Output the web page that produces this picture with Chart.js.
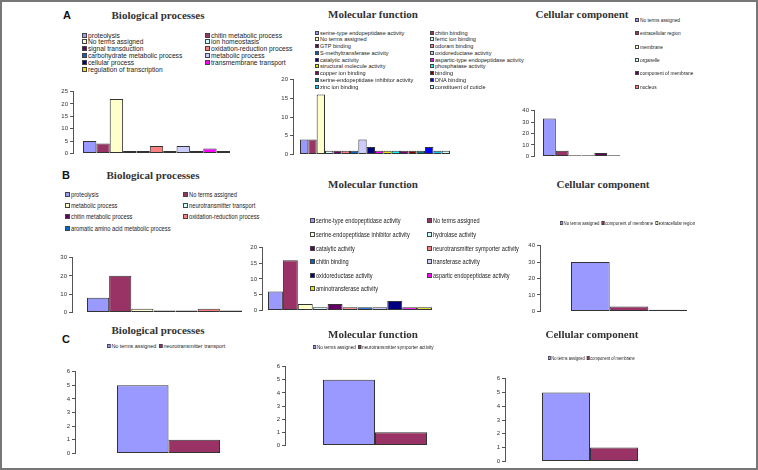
<!DOCTYPE html>
<html>
<head>
<meta charset="utf-8">
<script src="https://cdn.jsdelivr.net/npm/chart.js@4.4.0/dist/chart.umd.min.js"></script>
<style>
    html, body { margin: 0; padding: 0; background: #fff; }
    #fig { position: relative; width: 758px; height: 470px; overflow: hidden; font-family: 'Liberation Sans', Arial, sans-serif; }
    #frame { position: absolute; left: 0; top: 0; right: 0; bottom: 0; border: 2px solid #777; pointer-events: none; }
    canvas { position: absolute; }
    .panel { position: absolute; font: bold 11px 'Liberation Sans', Arial, sans-serif; color: #111; transform: translate(-50%, -50%); }
    .title { position: absolute; font: bold 11px 'Liberation Serif', 'Times New Roman', serif; color: #333; white-space: nowrap; transform: translate(-50%, -50%); }
    .leg { position: absolute; white-space: nowrap; color: #222; display: flex; align-items: center; }
    .leg i { display: inline-block; border: 1px solid #444; box-sizing: border-box; margin-right: 1px; flex: none; }
    .leg span { display: inline-block; transform-origin: left center; }
    .row { transform-origin: left center; }
    .row b { font-weight: normal; display: flex; align-items: center; margin-right: 3px; }
</style>
</head>
<body>
<div id="fig"><div id="frame"></div></div>
<script>
// ============================================
// DATA
// ============================================

// A - biological processes
const aBioLabels = ['proteolysis', 'chitin metabolic process', 'No terms assigned', 'ion homeostasis',
    'signal transduction', 'oxidation-reduction process', 'carbohydrate metabolic process',
    'metabolic process', 'cellular process', 'transmembrane transport', 'regulation of transcription'];
const aBioValues = [5, 4, 22, 1, 1, 3, 1, 3, 1, 2, 1];

// A - molecular function
const aMolLabels = ['serine-type endopeptidase activity', 'chitin binding', 'No terms assigned',
    'ferric ion binding', 'GTP binding', 'odorant binding', 'S-methyltransferase activity',
    'oxidoreductase activity', 'catalytic activity', 'aspartic-type endopeptidase activity',
    'structural molecule activity', 'phosphatase activity', 'copper ion binding', 'binding',
    'serine-endopeptidase inhibitor activity', 'DNA binding', 'zinc ion binding', 'constituent of cuticle'];
const aMolValues = [4, 4, 16, 1, 1, 1, 1, 4, 2, 1, 1, 1, 1, 1, 1, 2, 1, 1];

// A - cellular component
const aCellLabels = ['No terms assigned', 'extracellular region', 'membrane', 'organelle',
    'component of membrane', 'nucleus'];
const aCellValues = [33, 5, 1, 1, 3, 1];

// B - biological processes
const bBioLabels = ['proteolysis', 'No terms assigned', 'metabolic process', 'neurotransmitter transport',
    'chitin metabolic process', 'oxidation-reduction process', 'aromatic amino acid metabolic process'];
const bBioValues = [8, 20, 2, 1, 1, 2, 1];

// B - molecular function
const bMolLabels = ['serine-type endopeptidase activity', 'No terms assigned',
    'serine-endopeptidase inhibitor activity', 'hydrolase activity', 'catalytic activity',
    'neurotransmitter symporter activity', 'chitin binding', 'transferase activity',
    'oxidoreductase activity', 'aspartic endopeptidase activity', 'aminotransferase activity'];
const bMolValues = [6, 16, 2, 1, 2, 1, 1, 1, 3, 1, 1];

// B - cellular component
const bCellLabels = ['No terms assigned', 'component of membrane', 'extracellular region'];
const bCellValues = [30, 3, 1];

// C
const cBioLabels = ['No terms assigned', 'neurotransmitter transport'];
const cBioValues = [5, 1];
const cMolLabels = ['No terms assigned', 'neurotransmitter symporter activity'];
const cMolValues = [5, 1];
const cCellLabels = ['No terms assigned', 'component of membrane'];
const cCellValues = [5, 1];

// y axis ranges [max, step]
const aBioAxis = [25, 5], aMolAxis = [20, 5], aCellAxis = [40, 10];
const bBioAxis = [30, 10], bMolAxis = [20, 5], bCellAxis = [40, 10];
const cBioAxis = [6, 1], cMolAxis = [6, 1], cCellAxis = [6, 1];

// old Excel series colours
const excelPalette = ['#9999ff', '#993366', '#ffffcc', '#ccffff', '#660066', '#ff8080', '#0066cc',
    '#ccccff', '#000080', '#ff00ff', '#e6e600', '#00ffff', '#800080', '#800000', '#008080',
    '#0000ff', '#00ccff', '#ccffff'];

Chart.defaults.font.family = "'Liberation Sans', Arial, sans-serif";

const fig = document.getElementById('fig');

// ============================================
// HELPERS
// ============================================
function addText(cls, text, x, y) {
    const d = document.createElement('div');
    d.className = cls;
    d.textContent = text;
    d.style.left = x + 'px';
    d.style.top = y + 'px';
    fig.appendChild(d);
}

function makeChart(g, labels, values, axis) {
    const labelW = 16, pad = 5;
    const plotR = g.barsR + (g.barsL - g.axisX);
    const w = labelW + (plotR - g.axisX);
    const h = g.zeroY - g.topY + pad * 2;
    const c = document.createElement('canvas');
    c.width = w; c.height = h;
    c.style.left = (g.axisX - labelW) + 'px';
    c.style.top = (g.topY - pad) + 'px';
    c.style.width = w + 'px';
    c.style.height = h + 'px';
    fig.appendChild(c);
    const catPct = (g.barsR - g.barsL) / (plotR - g.axisX);
    new Chart(c, {
        type: 'bar',
        data: {
            labels: [''],
            datasets: labels.map((l, i) => ({
                label: l,
                data: [values[i]],
                backgroundColor: excelPalette[i],
                borderColor: '#333',
                borderWidth: 1,
                borderSkipped: false,
                categoryPercentage: catPct,
                barPercentage: 1
            }))
        },
        options: {
            responsive: false,
            animation: false,
            layout: { padding: { top: pad, bottom: pad, left: 0, right: 0 } },
            plugins: { legend: { display: false }, tooltip: { enabled: false } },
            scales: {
                x: { display: false },
                y: {
                    min: 0,
                    max: axis[0],
                    ticks: { stepSize: axis[1], font: { size: 6 }, color: '#333', padding: 2 },
                    grid: { drawOnChartArea: false, tickLength: 3, color: '#555' },
                    border: { color: '#555' },
                    afterFit: s => { s.width = labelW; }
                }
            }
        }
    });
}

// legend laid out in columns, series go left-right then down (like Excel)
function colLegend(labels, o) {
    labels.forEach((l, i) => {
        const col = i % o.cols.length, row = Math.floor(i / o.cols.length);
        const d = document.createElement('div');
        d.className = 'leg';
        d.style.left = o.cols[col] + 'px';
        d.style.top = (o.y + row * o.rowH - (o.box + 2) / 2) + 'px';
        d.style.height = (o.box + 2) + 'px';
        d.style.fontSize = o.size + 'px';
        const b = document.createElement('i');
        b.style.width = o.box + 'px';
        b.style.height = o.box + 'px';
        b.style.background = excelPalette[i];
        const s = document.createElement('span');
        s.textContent = l;
        s.style.transform = 'scaleX(' + o.sx + ')';
        d.appendChild(b);
        d.appendChild(s);
        fig.appendChild(d);
    });
}

// single line legend squeezed to a target width
function rowLegend(labels, x0, x1, y, size, box) {
    const d = document.createElement('div');
    d.className = 'leg row';
    d.style.left = x0 + 'px';
    d.style.top = (y - (box + 2) / 2) + 'px';
    d.style.height = (box + 2) + 'px';
    d.style.fontSize = size + 'px';
    labels.forEach((l, i) => {
        const it = document.createElement('b');
        const sq = document.createElement('i');
        sq.style.width = box + 'px';
        sq.style.height = box + 'px';
        sq.style.background = excelPalette[i];
        it.appendChild(sq);
        it.appendChild(document.createTextNode(l));
        d.appendChild(it);
    });
    fig.appendChild(d);
    d.style.transform = 'scaleX(' + ((x1 - x0) / d.scrollWidth) + ')';
}

// ============================================
// PANEL A
// ============================================
addText('panel', 'A', 67, 15);
addText('title', 'Biological processes', 158, 15);
addText('title', 'Molecular function', 373, 14);
addText('title', 'Cellular component', 582, 14);

makeChart({ axisX: 73, topY: 91, zeroY: 154, barsL: 83, barsR: 230 }, aBioLabels, aBioValues, aBioAxis);
makeChart({ axisX: 293, topY: 79, zeroY: 155, barsL: 300, barsR: 450 }, aMolLabels, aMolValues, aMolAxis);
makeChart({ axisX: 534, topY: 110, zeroY: 157, barsL: 543, barsR: 620 }, aCellLabels, aCellValues, aCellAxis);

colLegend(aBioLabels, { cols: [82, 205], y: 35, rowH: 6.9, size: 7, sx: 0.95, box: 5 });
colLegend(aMolLabels, { cols: [315, 430], y: 32.7, rowH: 6.75, size: 6, sx: 0.93, box: 4 });
colLegend(aCellLabels, { cols: [635], y: 20, rowH: 13.3, size: 6, sx: 0.8, box: 4 });

// ============================================
// PANEL B
// ============================================
addText('panel', 'B', 66, 175);
addText('title', 'Biological processes', 153, 175);
addText('title', 'Molecular function', 373, 184);
addText('title', 'Cellular component', 603, 184);

makeChart({ axisX: 72, topY: 257, zeroY: 313, barsL: 87, barsR: 242 }, bBioLabels, bBioValues, bBioAxis);
makeChart({ axisX: 262, topY: 247, zeroY: 311, barsL: 268, barsR: 432 }, bMolLabels, bMolValues, bMolAxis);
makeChart({ axisX: 540, topY: 245, zeroY: 312, barsL: 571, barsR: 687 }, bCellLabels, bCellValues, bCellAxis);

colLegend(bBioLabels, { cols: [65, 183], y: 194, rowH: 11.4, size: 8, sx: 0.72, box: 5 });
colLegend(bMolLabels, { cols: [310, 427], y: 220.7, rowH: 13.65, size: 8, sx: 0.7, box: 5 });
rowLegend(bCellLabels, 560, 697, 223, 6, 4);

// ============================================
// PANEL C
// ============================================
addText('panel', 'C', 66, 339);
addText('title', 'Biological processes', 158, 330);
addText('title', 'Molecular function', 373, 334);
addText('title', 'Cellular component', 592, 334);

makeChart({ axisX: 75, topY: 371, zeroY: 454, barsL: 117, barsR: 220 }, cBioLabels, cBioValues, cBioAxis);
makeChart({ axisX: 285, topY: 366, zeroY: 446, barsL: 323, barsR: 427 }, cMolLabels, cMolValues, cMolAxis);
makeChart({ axisX: 505, topY: 378, zeroY: 462, barsL: 542, barsR: 638 }, cCellLabels, cCellValues, cCellAxis);

rowLegend(cBioLabels, 107, 228, 346, 6, 4);
rowLegend(cMolLabels, 313, 436, 347, 6, 4);
rowLegend(cCellLabels, 548, 637, 358, 6, 4);
</script>
</body>
</html>
